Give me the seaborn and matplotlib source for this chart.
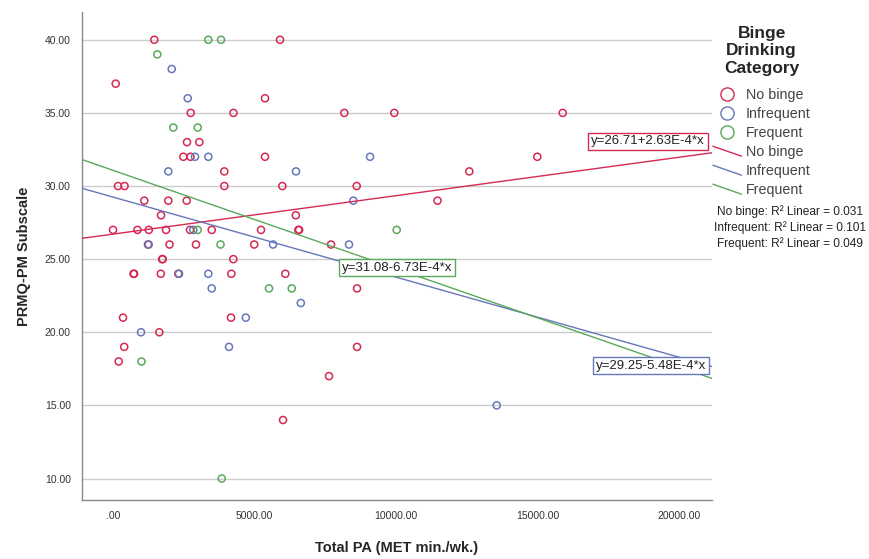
import numpy as np
import pandas as pd
import seaborn as sns
import matplotlib.pyplot as plt
from matplotlib.lines import Line2D
from matplotlib.legend_handler import HandlerBase

# Data
categories = ['No binge', 'Infrequent', 'Frequent']
colors = ['#d42a52', '#6677bb', '#5aa95a']

no_binge_pa = [1468, 5906, 106, 5376, 2753, 4264, 8175, 9940, 15885, 2623, 3057,
               2492, 2746, 5376, 14988, 3939, 12588, 187, 417, 3939, 5987, 8613,
               1115, 1963, 2612, 11465, 1705, 6463, 11, 875, 1274, 1881, 2729,
               3495, 5235, 6552, 6580, 1246, 2005, 2940, 4995, 7706, 1765, 1745,
               4257, 734, 756, 1698, 2316, 4187, 6093, 8624, 364, 4176, 1645,
               406, 8624, 212, 7635, 6012]
no_binge_prmq = [40, 40, 37, 36, 35, 35, 35, 35, 35, 33, 33,
                 32, 32, 32, 32, 31, 31, 30, 30, 30, 30, 30,
                 29, 29, 29, 29, 28, 28, 27, 27, 27, 27, 27,
                 27, 27, 27, 27, 26, 26, 26, 26, 26, 25, 25,
                 25, 24, 24, 24, 24, 24, 24, 23, 21, 21, 20,
                 19, 19, 18, 17, 14]

infrequent_pa = [2083, 2648, 2905, 3375, 9083, 1963, 6470, 8493, 2845, 1270,
                 5659, 8341, 2340, 3375, 3495, 6640, 4698, 999, 4105, 13555]
infrequent_prmq = [38, 36, 32, 32, 32, 31, 31, 29, 27, 26,
                   26, 26, 24, 24, 23, 22, 21, 20, 19, 15]

frequent_pa = [3375, 3823, 1574, 2139, 3000, 3000, 3805, 10025, 5517, 6319, 1017, 3848]
frequent_prmq = [40, 40, 39, 34, 34, 27, 26, 27, 23, 23, 18, 10]

# fit lines as printed on the chart
fit_intercept = [26.71, 29.25, 31.08]
fit_slope = [2.63e-4, -5.48e-4, -6.73e-4]
r_squared = [0.031, 0.101, 0.049]

x_ticks = [0, 5000, 10000, 15000, 20000]
x_tick_labels = ['.00', '5000.00', '10000.00', '15000.00', '20000.00']
y_ticks = [10, 15, 20, 25, 30, 35, 40]

df = pd.DataFrame({
    'pa': no_binge_pa + infrequent_pa + frequent_pa,
    'prmq': no_binge_prmq + infrequent_prmq + frequent_prmq,
    'group': (['No binge'] * len(no_binge_pa) + ['Infrequent'] * len(infrequent_pa)
              + ['Frequent'] * len(frequent_pa)),
})

sns.set_style('white')
plt.rcParams['font.family'] = ['Liberation Sans', 'DejaVu Sans']

fig = plt.figure(figsize=(8.69, 5.59), dpi=100)
ax = fig.add_axes([82 / 869, 1 - 500 / 559, 630 / 869, 488 / 559])

sns.scatterplot(data=df, x='pa', y='prmq', hue='group', hue_order=categories,
                palette=colors, s=26, marker='o', legend=False, ax=ax, zorder=3)
for coll in ax.collections:
    fc = coll.get_facecolors()
    coll.set_edgecolors(fc)
    coll.set_facecolors('none')
    coll.set_linewidth(1.1)

ax.set_xlim(-1084, 21154)
ax.set_ylim(8.53, 41.9)

xs = np.array(ax.get_xlim())
for b, m, c in zip(fit_intercept, fit_slope, colors):
    sns.lineplot(x=xs, y=b + m * xs, color=c, lw=1, ax=ax, zorder=4)

ax.set_xticks(x_ticks)
ax.set_xticklabels(x_tick_labels)
ax.set_yticks(y_ticks)
ax.set_yticklabels([f'{v:.2f}' for v in y_ticks])
ax.tick_params(axis='both', labelsize=7.5, labelcolor='#333333', length=0, pad=8)
ax.yaxis.grid(True, color='#cccccc', lw=1)
ax.xaxis.grid(False)
for s in ['top', 'right']:
    ax.spines[s].set_visible(False)
for s in ['left', 'bottom']:
    ax.spines[s].set_color('#8a8a8a')
    ax.spines[s].set_linewidth(1)

ax.set_xlabel('Total PA (MET min./wk.)', fontsize=10.5, fontweight='bold', labelpad=14)
ax.set_ylabel('PRMQ-PM Subscale', fontsize=10.5, fontweight='bold', labelpad=10)

# equation labels
eq_pos = [(648, 141.5), (651, 365.5), (397, 267.5)]
for (px, py), b, m, c in zip(eq_pos, fit_intercept, fit_slope, colors):
    txt = f'y={b:.2f}{m * 1e4:+.2f}E-4*x'
    fig.text(px / 869, 1 - py / 559, txt, fontsize=9.5, ha='center', va='center',
             color='#222222', zorder=6,
             bbox=dict(boxstyle='square,pad=0.22', fc='white', ec=c, lw=1))


class SlantLine(HandlerBase):
    def create_artists(self, legend, orig_handle, xdescent, ydescent, width, height,
                       fontsize, trans):
        ln = Line2D([-xdescent, width - xdescent], [height - ydescent, -ydescent],
                    color=orig_handle.get_color(), lw=orig_handle.get_linewidth(),
                    transform=trans)
        return [ln]


handles = [Line2D([], [], marker='o', ls='', markerfacecolor='none', markeredgecolor=c,
                  markersize=9.5, markeredgewidth=1) for c in colors]
handles += [Line2D([], [], color=c, lw=1) for c in colors]
labels = categories + categories
hmap = {h: SlantLine() for h in handles[3:]}
leg = fig.legend(handles, labels, title='Binge\nDrinking\nCategory', loc='upper left',
                 bbox_to_anchor=(700 / 869, 1 - 13 / 559), frameon=False, fontsize=10.3,
                 title_fontproperties={'weight': 'bold', 'size': 12.5},
                 handlelength=2.0, handletextpad=0.3, labelspacing=0.35,
                 handler_map=hmap)
leg.get_title().set_multialignment('center')
leg.get_title().set_linespacing(1.2)
leg._legend_box.sep = 9
for t in leg.get_texts():
    t.set_color('#444444')

r2_lines = [f'{cat}: R² Linear = {r:.3f}' for cat, r in zip(categories, r_squared)]
fig.text(790 / 869, 1 - 205 / 559, '\n'.join(r2_lines), fontsize=8.6, ha='center',
         va='top', color='#222222', linespacing=1.33)

fig.savefig('out.png', dpi=100)
